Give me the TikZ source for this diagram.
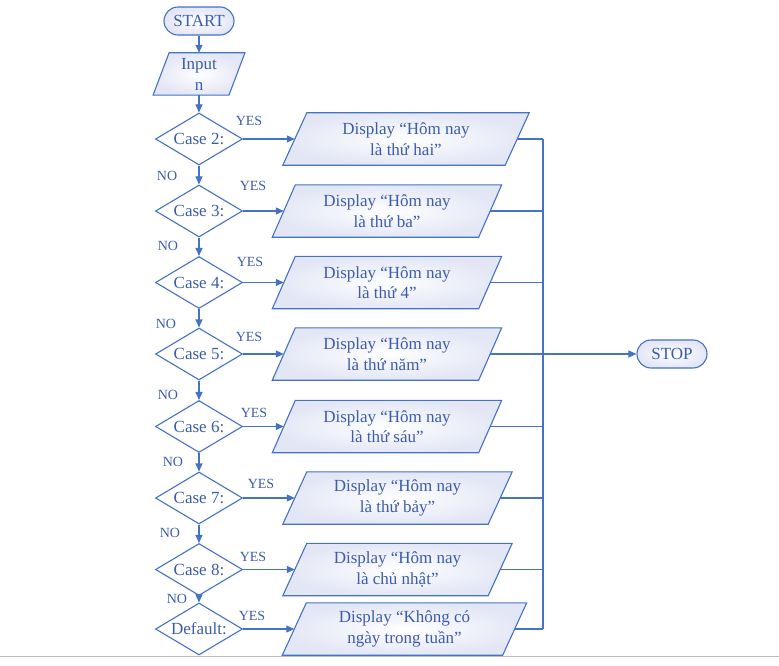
\documentclass[tikz,border=0pt]{standalone}
\usepackage{fontspec}
\setmainfont{Liberation Serif}
\usetikzlibrary{shapes.geometric,arrows.meta,backgrounds}
\definecolor{lineblue}{HTML}{4472C4}
\definecolor{textblue}{HTML}{3B5DAB}
\definecolor{pfill}{HTML}{E3E6F5}
\newcommand{\paradraw}[2]{%
  \shadedraw[inner color=white,outer color=pfill,draw=lineblue,line width=1.1pt,line join=miter]
    ([xshift=#2]#1.north west) -- ([xshift=#2]#1.north east) --
    ([xshift=-#2]#1.south east) -- ([xshift=-#2]#1.south west) -- cycle;}
\tikzset{
  every node/.style={text=textblue},
  big/.style={font=\fontsize{17}{20.5}\selectfont},
  lbl/.style={font=\fontsize{14}{16}\selectfont,inner sep=0pt},
  conn/.style={draw=lineblue,line width=1.1pt},
  arr/.style={conn,-{Triangle[length=8pt,width=7pt]}},
  term/.style={big,draw=lineblue,line width=1.1pt,rounded corners=14pt,minimum width=70pt,minimum height=28pt,inner sep=0pt,inner color=white,outer color=pfill},
  dec/.style={big,shape=diamond,draw=lineblue,line width=1.1pt,fill=white,minimum width=87pt,minimum height=52pt,inner sep=0pt,aspect=1.67},
  disp/.style={big,align=center,minimum height=52pt,inner sep=0pt},
}
\begin{document}
\begin{tikzpicture}[x=1pt,y=-1pt]
\useasboundingbox (0,0) rectangle (779,666);
% terminals and input
\node[term] (start) at (199,21) {START};
\node[disp,minimum width=75.5pt,minimum height=42pt,font=\fontsize{17}{21}\selectfont] (input) at (199,74) {Input\\n};
% decisions
\node[dec] (c2) at (199,139) {Case 2:};
\node[dec] (c3) at (199,211) {Case 3:};
\node[dec] (c4) at (199,282.5) {Case 4:};
\node[dec] (c5) at (199,354) {Case 5:};
\node[dec] (c6) at (199,426.5) {Case 6:};
\node[dec] (c7) at (199,498) {Case 7:};
\node[dec] (c8) at (199,569.5) {Case 8:};
\node[dec] (cd) at (199,629) {Default:};
% displays
\node[disp,minimum width=222pt] (d1) at (406,139) {Display “Hôm nay\\là thứ hai”};
\node[disp,minimum width=206pt] (d2) at (387,211) {Display “Hôm nay\\là thứ ba”};
\node[disp,minimum width=206pt] (d3) at (387,282.5) {Display “Hôm nay\\là thứ 4”};
\node[disp,minimum width=206pt] (d4) at (387,354) {Display “Hôm nay\\là thứ năm”};
\node[disp,minimum width=206pt] (d5) at (387,426.5) {Display “Hôm nay\\là thứ sáu”};
\node[disp,minimum width=205pt] (d6) at (397.5,498) {Display “Hôm nay\\là thứ bảy”};
\node[disp,minimum width=205pt] (d7) at (397.5,569.5) {Display “Hôm nay\\là chủ nhật”};
\node[disp,minimum width=220pt] (d8) at (404.5,629) {Display “Không có\\ngày trong tuần”};
\node[term] (stop) at (672,354) {STOP};
\begin{pgfonlayer}{background}
  \paradraw{input}{8}
  \paradraw{d1}{12}
  \paradraw{d2}{11.5}
  \paradraw{d3}{11.5}
  \paradraw{d4}{11.5}
  \paradraw{d5}{11.5}
  \paradraw{d6}{12}
  \paradraw{d7}{12}
  \paradraw{d8}{12}
\end{pgfonlayer}
% bus
\coordinate (bt) at (543,139);
\coordinate (bb) at (543,629);
% vertical flow
\draw[arr] (start) -- (input);
\draw[arr] (input) -- (c2);
\draw[arr] (c2) -- (c3);
\draw[arr] (c3) -- (c4);
\draw[arr] (c4) -- (c5);
\draw[arr] (c5) -- (c6);
\draw[arr] (c6) -- (c7);
\draw[arr] (c7) -- (c8);
\draw[arr] (c8) -- (cd);
% yes branches
\foreach \c/\d in {c2/d1,c3/d2,c4/d3,c5/d4,c6/d5,c7/d6,c8/d7,cd/d8}{
  \draw[arr] (\c.east) -- (\d.west);
  \draw[conn] (\d.east) -- (\d.east -| bt);
}
\draw[conn] (bt) -- (bb);
\draw[arr] (stop -| bt) -- (stop);
% labels
\node[lbl] (y1) at (249,121) {YES};
\node[lbl] (y2) at (253,186) {YES};
\node[lbl] (y3) at (250,262) {YES};
\node[lbl] (y4) at (249,337) {YES};
\node[lbl] (y5) at (254,413) {YES};
\node[lbl] (y6) at (261,484) {YES};
\node[lbl] (y7) at (253,557) {YES};
\node[lbl] (y8) at (252,616) {YES};
\node[lbl] (n1) at (167,176) {NO};
\node[lbl] (n2) at (168,246) {NO};
\node[lbl] (n3) at (166,324) {NO};
\node[lbl] (n4) at (168,395) {NO};
\node[lbl] (n5) at (173,462) {NO};
\node[lbl] (n6) at (170,533) {NO};
\node[lbl] (n7) at (177,599) {NO};
% page edge line
\draw[black!25,line width=1pt] (0,656.5) -- (779,656.5);
\end{tikzpicture}
\end{document}
